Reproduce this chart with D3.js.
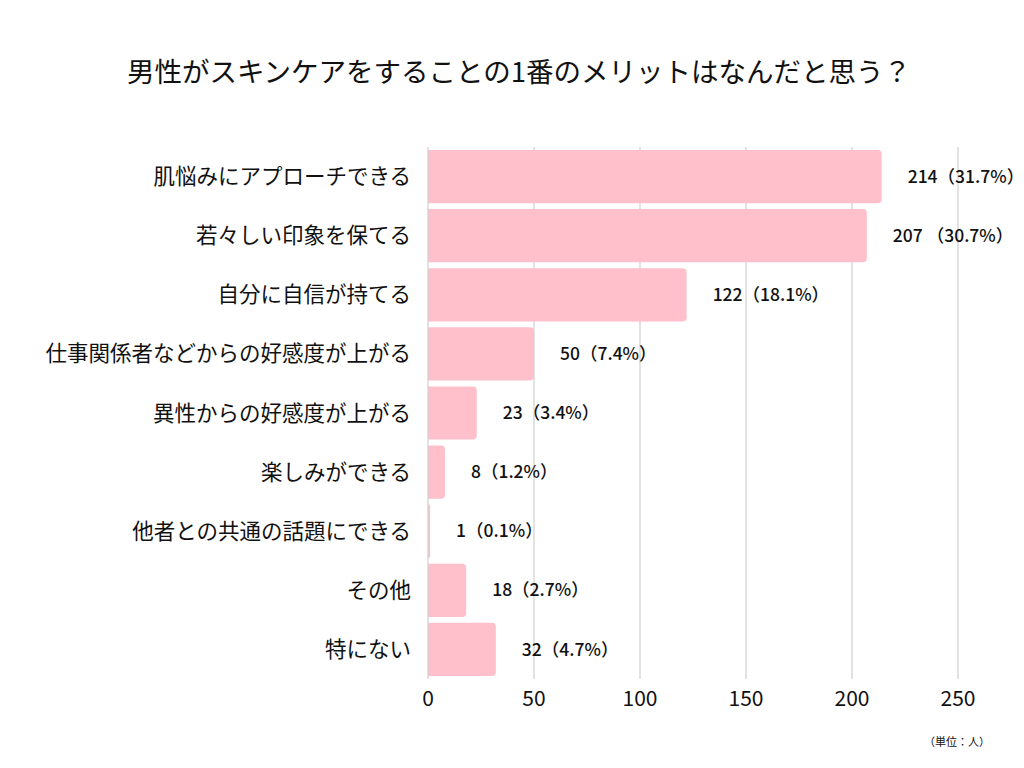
<!DOCTYPE html>
<html><head><meta charset="utf-8">
<script src="https://cdnjs.cloudflare.com/ajax/libs/d3/7.8.5/d3.min.js"></script>
<style>
body{margin:0;background:#fff;}
svg{display:block;font-family:"Noto Sans CJK JP","Noto Sans",sans-serif;}
</style></head>
<body><svg id="c" width="1024" height="768"></svg>
<script>
const title = "男性がスキンケアをすることの1番のメリットはなんだと思う？";
const categories = ["肌悩みにアプローチできる","若々しい印象を保てる","自分に自信が持てる","仕事関係者などからの好感度が上がる","異性からの好感度が上がる","楽しみができる","他者との共通の話題にできる","その他","特にない"];
const values = [214,207,122,50,23,8,1,18,32];
const labels = ["214（31.7%）","207 （30.7%）","122（18.1%）","50（7.4%）","23（3.4%）","8（1.2%）","1（0.1%）","18（2.7%）","32（4.7%）"];
const ticks = [0,50,100,150,200,250];
const unit = "（単位：人）";

const svg = d3.select("#c");
const x = d3.scaleLinear().domain([0,250]).range([428,958]);
const y = d3.scaleBand().domain(categories).range([147,679]).paddingInner(0.1).paddingOuter(0.05);

svg.append("text").attr("x",519).attr("y",82).attr("text-anchor","middle")
  .attr("font-size",27.5).attr("fill","#111").text(title);

// gridlines
svg.append("g").selectAll("line").data(ticks.slice(1)).join("line")
  .attr("x1",d=>x(d)).attr("x2",d=>x(d)).attr("y1",147).attr("y2",679)
  .attr("stroke","#cfcfcf").attr("stroke-width",1.2);

// bars with rounded right corners
const r = 4;
svg.append("g").selectAll("path").data(values).join("path")
  .attr("fill","#ffc0cb")
  .attr("d",(d,i)=>{
    const x0=x(0), x1=x(d), y0=y(categories[i]), h=y.bandwidth();
    const rr=Math.min(r,(x1-x0)/2);
    return `M${x0},${y0}H${x1-rr}Q${x1},${y0} ${x1},${y0+rr}V${y0+h-rr}Q${x1},${y0+h} ${x1-rr},${y0+h}H${x0}Z`;
  });

// axis line
svg.append("line").attr("x1",x(0)).attr("x2",x(0)).attr("y1",147).attr("y2",679)
  .attr("stroke","#cfcfcf").attr("stroke-width",1.2);

// category labels
svg.append("g").selectAll("text").data(categories).join("text")
  .attr("x",411).attr("y",d=>y(d)+y.bandwidth()/2).attr("dy","0.35em")
  .attr("text-anchor","end").attr("font-size",21.5).attr("fill","#111").text(d=>d);

// value labels
svg.append("g").selectAll("text").data(values).join("text")
  .attr("x",d=>x(d)+26).attr("y",(d,i)=>y(categories[i])+y.bandwidth()/2).attr("dy","0.35em")
  .attr("font-size",17.5).attr("font-weight",500).attr("fill","#111").text((d,i)=>labels[i]);

// x tick labels
svg.append("g").selectAll("text").data(ticks).join("text")
  .attr("x",d=>x(d)).attr("y",706).attr("text-anchor","middle")
  .attr("font-size",21).attr("fill","#111").text(d=>d);

svg.append("text").attr("x",990).attr("y",746).attr("text-anchor","end")
  .attr("font-size",11).attr("fill","#111").text(unit);
</script></body></html>
